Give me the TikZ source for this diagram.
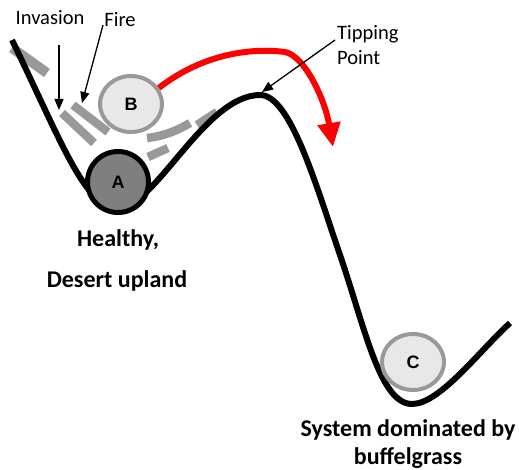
\documentclass[tikz,border=0pt]{standalone}
\usepackage{fontspec}
\setmainfont{Carlito}
\newfontfamily\ballfont{Liberation Sans}
\usetikzlibrary{arrows.meta,shapes.geometric}
\definecolor{barcol}{HTML}{999999}
\definecolor{ballrim}{HTML}{999999}
\definecolor{ballfill}{HTML}{E8E8E8}
\definecolor{balldark}{HTML}{7F7F7F}
\tikzset{
  ball/.style={ellipse, draw=ballrim, fill=ballfill, line width=4pt,
    minimum width=62pt, minimum height=56pt, inner sep=0pt,
    font=\ballfont\bfseries\fontsize{18}{18}\selectfont},
  bar/.style={draw=barcol, line width=8.5pt},
  pointer/.style={-{Triangle[length=11pt,width=9pt]}, line width=1.3pt},
  tag/.style={font=\fontsize{20.5}{25}\selectfont, inner sep=0pt},
  caption/.style={font=\bfseries\fontsize{24}{24}\selectfont, inner sep=0pt}
}
\begin{document}
\begin{tikzpicture}[x=1pt,y=-1pt]
\useasboundingbox (0,0) rectangle (519,470);

% grass bars
\draw[bar, line width=10pt] (12,48) -- (47,73);
\draw[bar] (62,113) -- (94,143);
\draw[bar] (73,105) -- (108,132);
\draw[bar] (147,138) .. controls (165,136) and (178,130) .. (190,123);
\draw[bar] (197,125) -- (217,112);
\draw[bar] (148,157) -- (168,148);

% landscape
\draw[line width=6pt] (12,40) .. controls (62,143) and (85,208) .. (118,208)
  .. controls (155,208) and (205,95) .. (260,95)
  .. controls (290,95) and (315,182) .. (340,255)
  .. controls (365,328) and (380,404) .. (412,404)
  .. controls (440,404) and (480,350) .. (510,323);

\node[ball, draw=black, fill=balldark, line width=5pt, minimum width=61pt, minimum height=61pt] (A) at (118,182) {A};
\node[ball] (B) at (131,104) {B};
\node[ball] (C) at (413,362) {C};

\draw[red, line width=6pt, -{Triangle[length=24pt,width=22pt]}] (B.30) .. controls (205,52) and (255,48) .. (285,52)
  .. controls (305,56) and (325,100) .. (333,147);

\node[tag] (inv) at (50,18) {Invasion};
\node[tag] (fire) at (120,20) {Fire};
\node[tag, anchor=west, align=left] (tip) at (337,45) {Tipping\\Point};

\coordinate (invs) at (59,45);
\coordinate (invt) at (59,110);
\coordinate (fires) at (103,25);
\coordinate (firet) at (82,103);
\coordinate (tips) at (335,40);
\coordinate (tipt) at (262,92);
\draw[pointer] (invs) -- (invt);
\draw[pointer] (fires) -- (firet);
\draw[pointer] (tips) -- (tipt);

\node[caption] (h1) at (118,240) {Healthy,};
\node[caption] (h2) at (117,281) {Desert upland};
\node[caption] (s1) at (408,430) {System dominated by};
\node[caption] (s2) at (408,458) {buffelgrass};
\end{tikzpicture}
\end{document}
